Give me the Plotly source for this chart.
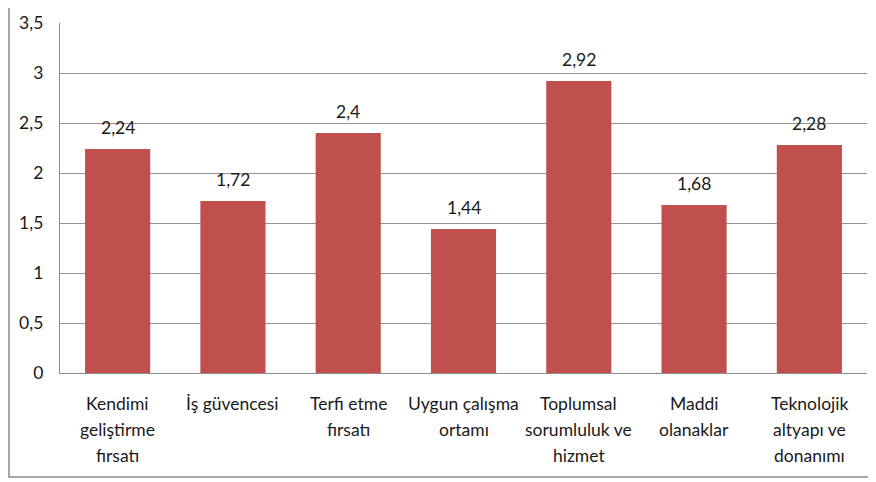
import plotly.graph_objects as go

kategoriler = [
    "Kendimi<br>geliştirme<br>fırsatı",
    "İş güvencesi",
    "Terfi etme<br>fırsatı",
    "Uygun çalışma<br>ortamı",
    "Toplumsal<br>sorumluluk ve<br>hizmet",
    "Maddi<br>olanaklar",
    "Teknolojik<br>altyapı ve<br>donanımı",
]
degerler = [2.24, 1.72, 2.4, 1.44, 2.92, 1.68, 2.28]
y_ticks = [0, 0.5, 1, 1.5, 2, 2.5, 3, 3.5]
y_tick_labels = ["0", "0,5", "1", "1,5", "2", "2,5", "3", "3,5"]

FONT = "Lato"
FS = 17.5
# page body has an 8px margin, so the figure is 8px smaller than the window
fig = go.Figure(layout={'width': 868, 'height': 474})
fig.add_trace(
    go.Bar(
        x=list(range(len(kategoriler))),
        y=degerler,
        marker=dict(color='#C0504D', line=dict(width=0)),
        width=0.565,
        hoverinfo='y',
    )
)

# value labels above bars
for i, v in enumerate(degerler):
    fig.add_annotation(
        x=i, y=v, xref='x', yref='y',
        text=f"{v:g}".replace('.', ','),
        showarrow=False, yanchor='bottom', yshift=9,
        font=dict(family=FONT, size=FS, color='#1a1a1a'),
    )

# category labels, one annotation per line (Excel-like line spacing)
for i, cat in enumerate(kategoriler):
    for j, satir in enumerate(cat.split('<br>')):
        fig.add_annotation(
            x=i, y=0, xref='x', yref='y',
            text=satir, showarrow=False, yanchor='middle',
            yshift=-(30 + j * 26),
            font=dict(family=FONT, size=FS, color='#1a1a1a'),
        )

# outer chart border (left + bottom visible)
fig.add_shape(
    type='rect', xref='paper', yref='paper',
    x0=-0.0632, x1=1.03, y0=-0.297, y1=1.1,
    line=dict(color='#8a8a8a', width=1.5), layer='below',
)

fig.update_layout(
    showlegend=False,
    plot_bgcolor='white',
    paper_bgcolor='white',
    margin=dict(l=52, r=9, t=15, b=109, autoexpand=False),
    font=dict(family=FONT, size=FS, color='#1a1a1a'),
    xaxis=dict(
        range=[-0.5, len(kategoriler) - 0.5],
        showticklabels=False, showgrid=False, zeroline=False,
        showline=True, linecolor='#8c8c8c', linewidth=1.3, ticks='',
    ),
    yaxis=dict(
        range=[0, 3.5], tickvals=y_ticks, ticktext=y_tick_labels,
        showgrid=True, gridcolor='#949494', gridwidth=1.1,
        zeroline=False, showline=True, linecolor='#8c8c8c', linewidth=1.3,
        ticks='', ticklabelstandoff=12,
    ),
)
fig.write_html("out.html")
